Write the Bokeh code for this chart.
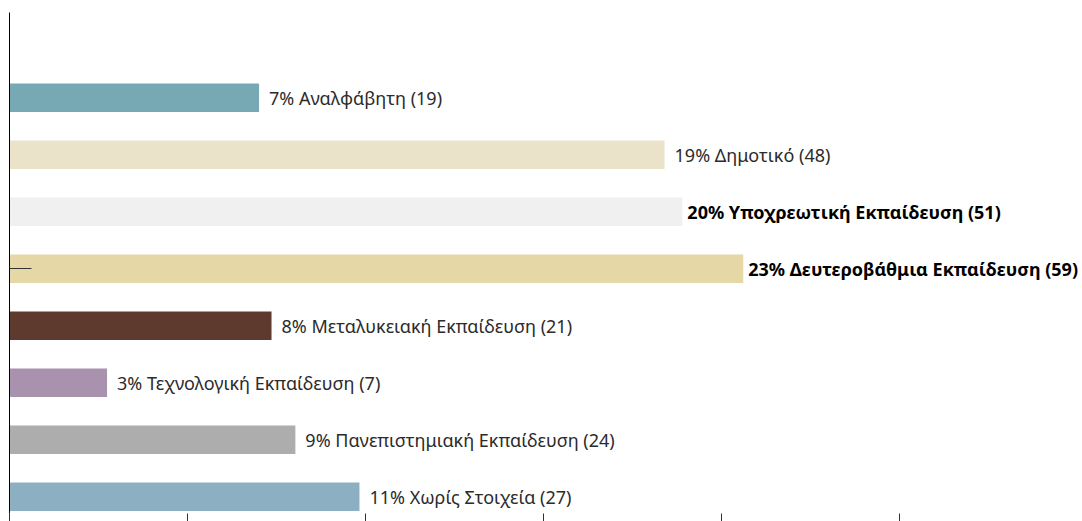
from bokeh.plotting import figure
from bokeh.models import ColumnDataSource, Range1d, FixedTicker, CustomJSTickFormatter
from bokeh.core.properties import value
from bokeh.embed import file_html
from bokeh.resources import INLINE

categories = ["Αναλφάβητη", "Δημοτικό", "Υποχρεωτική Εκπαίδευση", "Δευτεροβάθμια Εκπαίδευση",
              "Μεταλυκειακή Εκπαίδευση", "Τεχνολογική Εκπαίδευση", "Πανεπιστημιακή Εκπαίδευση",
              "Χωρίς Στοιχεία"]
percents = [7, 19, 20, 23, 8, 3, 9, 11]
counts = [19, 48, 51, 59, 21, 7, 24, 27]
bar_lengths = [7.01, 18.40, 18.90, 20.61, 7.36, 2.74, 8.03, 9.83]
colors = ["#76A9B3", "#EAE3C9", "#F0F0F0", "#E6D8A6", "#5E3A2E", "#A992AE", "#ADADAD", "#8DAFC2"]
bold = [False, False, True, True, False, False, False, False]

positions = list(range(1, len(categories) + 1))
labels = [f"{p}% {c} ({n})" for p, c, n in zip(percents, categories, counts)]

src = ColumnDataSource(dict(
    y=positions, right=bar_lengths, color=colors, label=labels,
    style=["bold" if b else "normal" for b in bold],
    tcolor=["#000000" if b else "#2b2b2b" for b in bold],
    off=[5 if b else 10 for b in bold],
))

p = figure(width=1082, height=521, output_backend="svg", toolbar_location=None,
           x_range=Range1d(0, 30.14), y_range=Range1d(8.293, -0.497),
           min_border_left=9, min_border_right=0, min_border_top=12, min_border_bottom=8)
p.outline_line_color = None
p.xgrid.visible = False
p.ygrid.visible = False
p.background_fill_color = "white"
p.border_fill_color = "white"

p.hbar(y="y", left=0, right="right", height=0.5, color="color", source=src, line_color=None)
p.text(x="right", y="y", text="label", x_offset="off", text_baseline="middle",
       text_font=value("Noto Sans"), text_font_size="18px", text_font_style="style",
       text_color="tcolor", source=src)

hide = CustomJSTickFormatter(code="return ''")
xa = p.xaxis[0]
xa.ticker = FixedTicker(ticks=[0, 5, 10, 15, 20, 25])
xa.formatter = hide
xa.axis_line_color = None
xa.major_tick_out = 8
xa.major_tick_in = 0
xa.major_tick_line_color = "#333333"
xa.minor_tick_line_color = None
xa.major_label_standoff = 0
xa.major_label_text_font_size = "0px"

ya = p.yaxis[0]
ya.ticker = FixedTicker(ticks=[4])
ya.formatter = hide
ya.axis_line_color = "#000000"
ya.axis_line_width = 1
ya.major_tick_out = 0
ya.major_tick_in = 22
ya.major_tick_line_color = "#333333"
ya.minor_tick_line_color = None
ya.major_label_standoff = 0
ya.major_label_text_font_size = "0px"

open("out.html", "w").write(file_html(p, INLINE))
